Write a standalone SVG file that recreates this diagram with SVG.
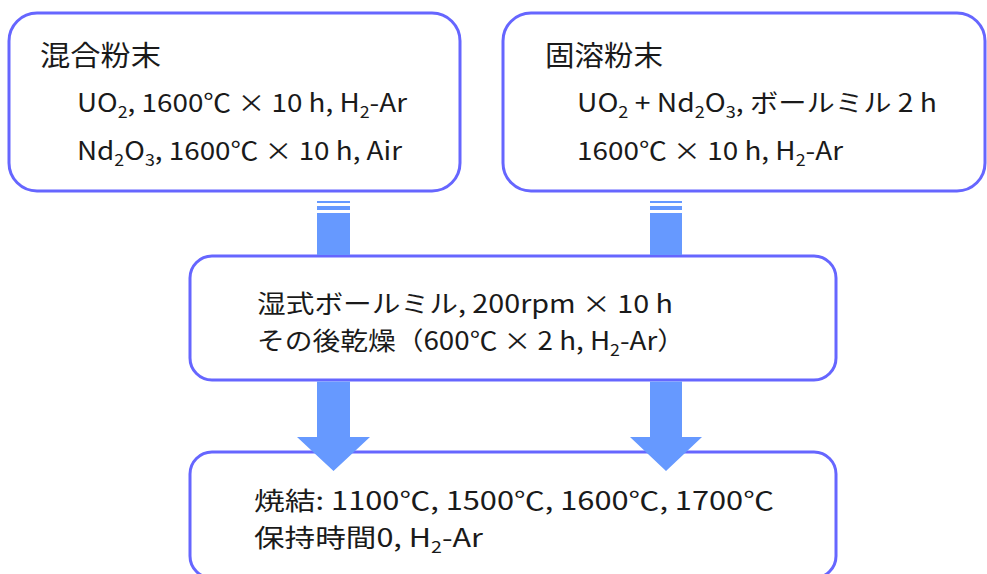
<svg xmlns="http://www.w3.org/2000/svg" width="987" height="574" viewBox="0 0 987 574">
<style>
.box{fill:#ffffff;stroke:#6666ff;stroke-width:3}
.arr{fill:#6699ff}
text{font-family:"Noto Sans CJK JP","Noto Sans",sans-serif;fill:#1a1a1a;font-size:25px}
.h{font-size:28px}
.s{font-size:16px}
</style>
<rect width="987" height="574" fill="#ffffff"/>
<g id="node-mixed">
<rect class="box" x="9" y="13" width="451" height="178" rx="28"/>
<text class="h" x="40" y="66" textLength="121" lengthAdjust="spacingAndGlyphs">混合粉末</text>
<text x="77" y="112" textLength="330" lengthAdjust="spacingAndGlyphs">UO<tspan class="s" dy="6">2</tspan><tspan dy="-6">, 1600℃ × 10 h, H</tspan><tspan class="s" dy="6">2</tspan><tspan dy="-6">-Ar</tspan></text>
<text x="77" y="160" textLength="325" lengthAdjust="spacingAndGlyphs">Nd<tspan class="s" dy="6">2</tspan><tspan dy="-6">O</tspan><tspan class="s" dy="6">3</tspan><tspan dy="-6">, 1600℃ × 10 h, Air</tspan></text>
</g>
<g id="node-solid">
<rect class="box" x="503" y="13" width="482" height="178" rx="28"/>
<text class="h" x="545" y="66" textLength="118" lengthAdjust="spacingAndGlyphs">固溶粉末</text>
<text x="577" y="112" textLength="360" lengthAdjust="spacingAndGlyphs">UO<tspan class="s" dy="6">2</tspan><tspan dy="-6"> + Nd</tspan><tspan class="s" dy="6">2</tspan><tspan dy="-6">O</tspan><tspan class="s" dy="6">3</tspan><tspan dy="-6">, ボールミル 2 h</tspan></text>
<text x="577" y="160" textLength="266" lengthAdjust="spacingAndGlyphs">1600℃ × 10 h, H<tspan class="s" dy="6">2</tspan><tspan dy="-6">-Ar</tspan></text>
</g>
<g id="node-mill">
<rect class="box" x="190" y="256" width="646" height="124" rx="22"/>
<text x="257" y="313" textLength="416" lengthAdjust="spacingAndGlyphs">湿式ボールミル, 200rpm × 10 h</text>
<text x="257" y="350" textLength="428" lengthAdjust="spacingAndGlyphs">その後乾燥（600℃ × 2 h, H<tspan class="s" dy="6">2</tspan><tspan dy="-6">-Ar）</tspan></text>
</g>
<g id="node-sinter">
<rect class="box" x="190" y="452" width="646" height="126" rx="22"/>
<text x="254" y="510" textLength="520" lengthAdjust="spacingAndGlyphs">焼結: 1100℃, 1500℃, 1600℃, 1700℃</text>
<text x="254" y="547" textLength="229" lengthAdjust="spacingAndGlyphs">保持時間0, H<tspan class="s" dy="6">2</tspan><tspan dy="-6">-Ar</tspan></text>
</g>
<g id="connectors">
<rect class="arr" x="317" y="201" width="33" height="2"/>
<rect class="arr" x="317" y="206" width="33" height="4"/>
<rect class="arr" x="317" y="213" width="33" height="42"/>
<rect class="arr" x="650" y="201" width="32" height="2"/>
<rect class="arr" x="650" y="206" width="32" height="4"/>
<rect class="arr" x="650" y="213" width="32" height="42"/>
<polygon class="arr" points="317,381.5 350,381.5 350,437 370,437 333.5,471 297,437 317,437"/>
<polygon class="arr" points="650,381.5 682,381.5 682,437 702,437 666,471 630,437 650,437"/>
</g>
</svg>
